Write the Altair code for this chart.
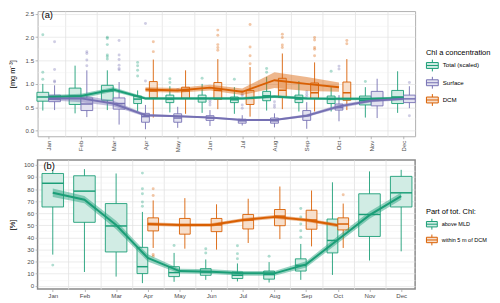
import altair as alt
import pandas as pd

FONT = "Liberation Sans"
MONTH_NAMES = ["Jan", "Feb", "Mar", "Apr", "May", "Jun", "Jul", "Aug", "Sep", "Oct", "Nov", "Dec"]
MONTHS = list(range(1, 13))
DCM_MONTHS = list(range(4, 11))

A_GROUPS = ["Total (scaled)", "Surface", "DCM"]
B_GROUPS = ["above MLD", "within 5 m of DCM"]

GREEN, PURPLE, ORANGE = "#1B9E77", "#7570B3", "#D95F02"
GREEN_T, PURPLE_T, ORANGE_T = "#d1ece4", "#e3e2f0", "#f7dfcc"

# ---------------- panel (a): Chl a concentration [mg m-3] ----------------
total_lo = [0.43, 0.37, 0.44, 0.41, 0.39, 0.38, 0.36, 0.43, 0.41, 0.41, 0.28, 0.38]
total_q1 = [0.63, 0.56, 0.65, 0.58, 0.60, 0.61, 0.60, 0.64, 0.60, 0.58, 0.55, 0.58]
total_med = [0.72, 0.74, 0.85, 0.675, 0.675, 0.69, 0.66, 0.745, 0.675, 0.675, 0.64, 0.72]
total_q3 = [0.82, 0.91, 0.97, 0.74, 0.76, 0.76, 0.72, 0.84, 0.76, 0.74, 0.74, 0.86]
total_hi = [1.00, 1.39, 1.29, 0.86, 0.95, 1.00, 0.93, 1.15, 1.06, 0.93, 0.93, 1.27]
total_out = [[2.05, 1.25, 1.10], [], [2.00, 1.97, 1.84, 1.62, 1.58, 1.53], [1.46, 1.39, 1.29, 1.17],
             [1.11, 1.03], [1.12], [1.10], [1.33, 1.25], [], [1.27], [1.05], []]

surf_lo = [0.44, 0.29, 0.13, 0.03, 0.06, 0.10, 0.11, 0.07, 0.04, 0.20, 0.27, 0.48]
surf_q1 = [0.62, 0.43, 0.46, 0.18, 0.18, 0.22, 0.16, 0.16, 0.22, 0.44, 0.53, 0.60]
surf_med = [0.675, 0.57, 0.58, 0.30, 0.27, 0.27, 0.21, 0.21, 0.32, 0.49, 0.675, 0.68]
surf_q3 = [0.76, 0.70, 0.70, 0.37, 0.36, 0.32, 0.245, 0.27, 0.43, 0.57, 0.84, 0.76]
surf_hi = [0.97, 1.29, 1.04, 0.55, 0.51, 0.44, 0.33, 0.37, 0.61, 0.76, 1.11, 0.95]
surf_out = [[1.90, 1.31, 1.06, 1.04], [1.69, 1.65, 1.51, 1.39], [1.93, 1.62, 1.52, 1.40, 1.33, 1.30],
            [2.29, 1.06], [0.88], [0.65, 0.60, 0.55], [0.83, 0.78, 0.75, 0.55, 0.48], [0.62, 0.55, 0.50],
            [0.83, 0.78, 0.73], [1.38, 1.32], [], [1.03, 0.32]]

dcm_lo = [0.28, 0.36, 0.46, 0.30, 0.46, 0.41, 0.44]
dcm_q1 = [0.70, 0.69, 0.67, 0.56, 0.71, 0.69, 0.65]
dcm_med = [0.85, 0.85, 0.865, 0.69, 0.865, 0.81, 0.81]
dcm_q3 = [1.05, 0.93, 1.03, 0.86, 1.12, 1.02, 1.04]
dcm_hi = [1.52, 1.29, 1.53, 1.36, 1.65, 1.46, 1.53]
dcm_out = [[1.90, 1.69], [], [2.15, 2.04, 1.84, 1.78, 1.72], [2.27, 1.79, 1.60, 1.43],
           [2.06, 1.99, 1.83, 1.78], [1.99, 1.94, 1.78, 1.74, 1.60], [1.93, 1.86]]

total_mean = [0.72, 0.74, 0.88, 0.69, 0.69, 0.69, 0.69, 0.73, 0.69, 0.68, 0.68, 0.70]
total_ci = [0.04, 0.05, 0.05, 0.03, 0.03, 0.03, 0.03, 0.03, 0.03, 0.03, 0.03, 0.03]
surf_mean = [0.69, 0.69, 0.58, 0.33, 0.31, 0.28, 0.23, 0.23, 0.32, 0.52, 0.64, 0.68]
surf_ci = [0.04, 0.08, 0.06, 0.03, 0.02, 0.02, 0.02, 0.02, 0.03, 0.04, 0.03, 0.03]
dcm_mean = [0.88, 0.86, 0.92, 0.83, 1.08, 1.00, 0.93]
dcm_ci = [0.05, 0.05, 0.06, 0.07, 0.17, 0.15, 0.10]

# ---------------- panel (b): part of total Chl [%] ----------------
mld_lo = [25.8, 11.4, 7.6, 2.2, 3.3, 4.9, 3.6, 2.7, 4.9, 9.0, 20.9, 28.5]
mld_q1 = [65.2, 52.5, 28.0, 10.1, 7.6, 8.7, 6.0, 5.5, 12.2, 27.2, 40.8, 65.2]
mld_med = [84.8, 78.3, 49.5, 15.8, 10.9, 11.4, 8.7, 9.5, 16.9, 37.5, 59.0, 76.9]
mld_q3 = [92.9, 91.0, 68.0, 31.8, 15.8, 14.2, 11.4, 12.2, 22.3, 55.2, 76.1, 90.5]
mld_hi = [96.0, 96.5, 92.9, 61.1, 27.2, 21.8, 18.5, 19.6, 34.6, 85.6, 94.6, 95.9]
mld_out = [[17.1], [], [], [93.2, 80.2, 76.1, 69.3, 65.8], [33.4], [30.7, 27.2], [33.2, 26.6, 22.3],
           [24.5], [63.9, 57.0, 51.1, 45.6, 40.2], [], [], []]

d5_lo = [31.3, 30.7, 29.9, 35.4, 38.6, 32.6, 31.3]
d5_q1 = [45.4, 42.7, 44.8, 47.0, 49.7, 46.8, 46.2]
d5_med = [50.8, 50.3, 50.3, 54.4, 57.6, 54.4, 51.1]
d5_q3 = [56.2, 55.7, 55.7, 59.0, 63.1, 62.5, 56.2]
d5_hi = [70.6, 72.5, 67.4, 72.0, 82.1, 78.8, 68.0]
d5_out = [[80.2, 74.7, 25.8, 24.5], [], [], [], [], [], [75.3]]

mld_mean = [76.9, 71.2, 50.3, 23.0, 12.2, 11.7, 10.3, 10.3, 17.7, 38.1, 58.4, 74.2]
mld_ci = [3.5, 3.0, 3.5, 3.0, 2.0, 2.0, 2.0, 2.0, 2.5, 3.0, 3.0, 3.0]
d5_mean = [51.1, 50.3, 50.3, 54.4, 57.0, 54.4, 50.0]
d5_ci = [1.5, 1.5, 1.5, 1.5, 1.5, 1.5, 1.5]


def build(stats, present_fn, W):
    boxes, outs = [], []
    for grp, (months, lo, q1, med, q3, hi, out) in stats.items():
        for k, m in enumerate(months):
            present = present_fn(m)
            n = len(present)
            i = present.index(grp)
            w = W / n
            c = m + (i - (n - 1) / 2) * w
            boxes.append(dict(grp=grp, month=m, xc=c, x0=c - w / 2, x1=c + w / 2,
                              lo=lo[k], q1=q1[k], med=med[k], q3=q3[k], hi=hi[k]))
            for v in out[k]:
                outs.append(dict(grp=grp, xc=c, val=v))
    return pd.DataFrame(boxes), pd.DataFrame(outs)


def build_lines(series):
    rows = []
    for grp, (months, mean, ci) in series.items():
        for m, v, e in zip(months, mean, ci):
            rows.append(dict(grp=grp, month=m, mean=v, lo=v - e, hi=v + e))
    return pd.DataFrame(rows)


box_a, out_a = build({
    "Total (scaled)": (MONTHS, total_lo, total_q1, total_med, total_q3, total_hi, total_out),
    "Surface": (MONTHS, surf_lo, surf_q1, surf_med, surf_q3, surf_hi, surf_out),
    "DCM": (DCM_MONTHS, dcm_lo, dcm_q1, dcm_med, dcm_q3, dcm_hi, dcm_out),
}, lambda m: A_GROUPS if m in DCM_MONTHS else A_GROUPS[:2], 0.73)
lines_a = build_lines({
    "Total (scaled)": (MONTHS, total_mean, total_ci),
    "Surface": (MONTHS, surf_mean, surf_ci),
    "DCM": (DCM_MONTHS, dcm_mean, dcm_ci),
})

box_b, out_b = build({
    "above MLD": (MONTHS, mld_lo, mld_q1, mld_med, mld_q3, mld_hi, mld_out),
    "within 5 m of DCM": (DCM_MONTHS, d5_lo, d5_q1, d5_med, d5_q3, d5_hi, d5_out),
}, lambda m: B_GROUPS if m in DCM_MONTHS else B_GROUPS[:1], 0.68)
lines_b = build_lines({
    "above MLD": (MONTHS, mld_mean, mld_ci),
    "within 5 m of DCM": (DCM_MONTHS, d5_mean, d5_ci),
})

BOX_PATH = "M-1,-0.5H1V0.5H-1Z M-1,0H1 M0,-0.5V-1 M0,0.5V1"
MONTH_EXPR = "['Jan','Feb','Mar','Apr','May','Jun','Jul','Aug','Sep','Oct','Nov','Dec'][datum.value - 1]"


def panel(box, outl, lines, groups, colors, tints, xdom, ydom, yvals, yminor, yfmt, ytitle,
          tpad, label, tx, ty, legend, height, label_angle, border, border_w):
    xs = alt.Scale(domain=xdom, nice=False, zero=False)
    ys = alt.Scale(domain=ydom, nice=False, zero=False)
    strong = alt.Scale(domain=groups, range=colors)
    tint = alt.Scale(domain=groups, range=tints)
    # colour scale of the lines/points/whiskers takes its domain from the data (sorted names),
    # so that it is kept apart from the legend of the boxes
    order = sorted(groups)
    data_col = alt.Scale(range=[colors[groups.index(g)] for g in order])
    col = alt.Color("grp:N", scale=data_col, legend=None)

    x_axis = alt.Axis(values=MONTHS, labelExpr=MONTH_EXPR, grid=False, domain=False, ticks=True,
                      tickSize=2.5, tickColor="#9a9a9a", tickWidth=0.7, labelAngle=label_angle,
                      labelFontSize=6.2, labelColor="#4d4d4d", labelFont=FONT, labelPadding=1.5,
                      title=None, orient="bottom")
    y_axis = alt.Axis(values=yvals, format=yfmt, grid=True, gridColor="#e2e2e2", gridWidth=0.7,
                      domain=False, ticks=True, tickSize=2.5, tickColor="#9a9a9a", tickWidth=0.7,
                      labelFontSize=6.2, labelColor="#4d4d4d", labelFont=FONT, labelPadding=1.5,
                      title=ytitle, titleFont=FONT, titleFontSize=7.5, titleFontWeight="normal",
                      titleColor="black", titlePadding=tpad, orient="left")
    gx = alt.Axis(values=[m + 0.5 for m in MONTHS[:-1]], grid=True, gridColor="#e2e2e2", gridWidth=0.8,
                  labels=False, ticks=False, domain=False, title=None, orient="bottom")
    gy = alt.Axis(values=yminor, grid=True, gridColor="#f0f0f0", gridWidth=0.5,
                  labels=False, ticks=False, domain=False, title=None, orient="left")

    whisk = alt.Chart(box).mark_rule(strokeWidth=0.9).encode(
        x=alt.X("xc:Q", scale=xs, axis=None), y=alt.Y("lo:Q", scale=ys, axis=None), y2="hi:Q", color=col)
    rect = alt.Chart(box).mark_rect(strokeWidth=0.9).encode(
        x=alt.X("x0:Q", scale=xs, axis=x_axis), x2="x1:Q",
        y=alt.Y("q1:Q", scale=ys, axis=y_axis), y2="q3:Q",
        fill=alt.Fill("grp:N", scale=tint, legend=legend),
        stroke=alt.Stroke("grp:N", scale=strong, legend=legend))
    med = alt.Chart(box).mark_rule(strokeWidth=1.5).encode(
        x=alt.X("x0:Q", scale=xs, axis=None), x2="x1:Q", y=alt.Y("med:Q", scale=ys, axis=None), color=col)
    pts = alt.Chart(outl).mark_circle(size=9, opacity=0.35).encode(
        x=alt.X("xc:Q", scale=xs, axis=None), y=alt.Y("val:Q", scale=ys, axis=None), color=col)
    rib = alt.Chart(lines).mark_area(opacity=0.45).encode(
        x=alt.X("month:Q", scale=xs, axis=gx), y=alt.Y("lo:Q", scale=ys, axis=gy, stack=None),
        y2="hi:Q", color=col)
    ln = alt.Chart(lines).mark_line(strokeWidth=2).encode(
        x=alt.X("month:Q", scale=xs, axis=None), y=alt.Y("mean:Q", scale=ys, axis=None), color=col)
    txt = alt.Chart(alt.Data(values=[{"t": label}])).mark_text(
        align="left", baseline="middle", fontSize=9.5, font=FONT, color="black").encode(
        x=alt.value(tx), y=alt.value(ty), text="t:N")
    return alt.layer(whisk, rect, med, pts, rib, ln, txt).resolve_axis(
        x="independent", y="independent").properties(
        width=383, height=height, view=alt.ViewBackground(stroke=border, strokeWidth=border_w))


def make_legend(title, ly, size, rowpad, tpad, lfs):
    return alt.Legend(title=title, orient="none", legendX=394, legendY=ly, symbolType=BOX_PATH,
                      symbolSize=size, symbolStrokeWidth=1, symbolFillColor="#ffffff", symbolOpacity=1,
                      labelFont=FONT, labelFontSize=lfs, labelColor="black", labelOffset=4,
                      titleFont=FONT, titleFontSize=7.6, titleFontWeight="normal", titleColor="black",
                      titlePadding=tpad, rowPadding=rowpad, padding=0, labelLimit=200)


chart_a = panel(box_a, out_a, lines_a, A_GROUPS, [GREEN, PURPLE, ORANGE], [GREEN_T, PURPLE_T, ORANGE_T],
                [0.655, 12.36], [-0.12, 2.557], [0, 0.5, 1.0, 1.5, 2.0, 2.5],
                [0.25, 0.75, 1.25, 1.75, 2.25], ".1f", "[mg m⁻³]", 8.4, "(a)", 4, 4.5,
                make_legend("Chl a concentration", 38.5, 144, 0.5, 2.6, 6.2), 127, 270, "#b0b0b0", 1)

chart_b = panel(box_b, out_b, lines_b, B_GROUPS, [GREEN, ORANGE], [GREEN_T, ORANGE_T],
                [0.52, 12.44], [-2.7, 104.1], list(range(0, 101, 10)),
                [v + 5 for v in range(0, 100, 10)], "d", "[%]", 6.7, "(b)", 6, 6.5,
                make_legend("Part of tot. Chl:", 48.4, 121, 0, 3.2, 5.6), 131, 0, "#8a8a8a", 1.5)

chart = alt.vconcat(chart_a, chart_b, spacing=6).resolve_scale(
    fill="independent", stroke="independent", color="independent").properties(
    padding=0, background="white")

chart.save("out.html", embed_options={"renderer": "svg", "actions": False})
